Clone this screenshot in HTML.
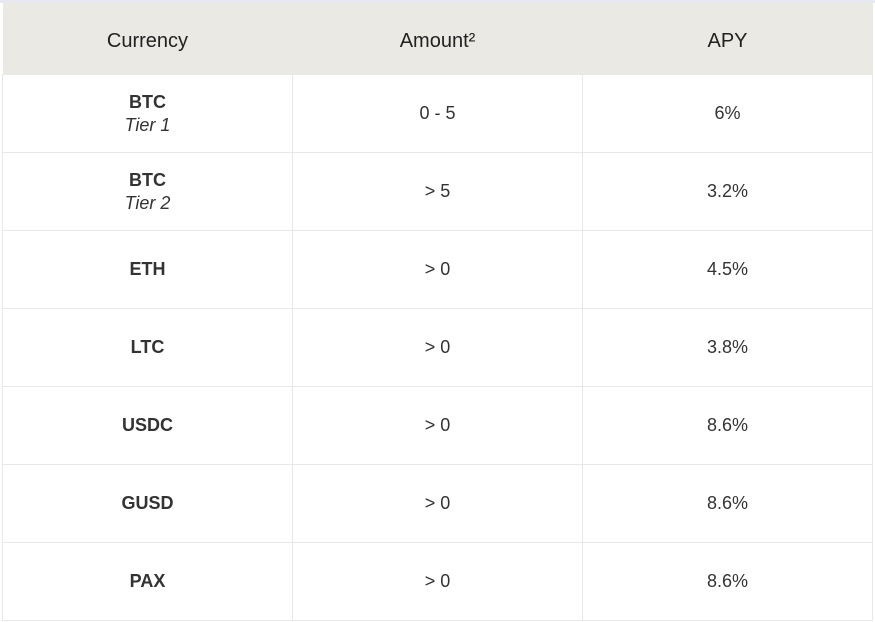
<!DOCTYPE html>
<html><head><style>
body{margin:0;width:875px;height:622px;background:#fff;font-family:"Liberation Sans",sans-serif;position:relative;overflow:hidden}
.top{position:absolute;left:0;top:0;width:875px;height:3px;background:#e6e9f2}
table{position:absolute;left:2px;top:3px;border-collapse:collapse;width:871px;table-layout:fixed}
th{background:#ebe9e4;height:65px;padding:6px 0 0 0;font-weight:normal;font-size:20px;color:#222}
td{height:77px;border:1px solid #e8e8e8;text-align:center;font-size:18px;color:#333;padding:0;line-height:23px}
b{font-weight:bold}
i{display:block}
</style></head><body>
<div class="top"></div>
<table>
<tr><th>Currency</th><th>Amount²</th><th>APY</th></tr>
<tr><td><b>BTC</b><i>Tier 1</i></td><td>0 - 5</td><td>6%</td></tr>
<tr><td><b>BTC</b><i>Tier 2</i></td><td>&gt; 5</td><td>3.2%</td></tr>
<tr><td><b>ETH</b></td><td>&gt; 0</td><td>4.5%</td></tr>
<tr><td><b>LTC</b></td><td>&gt; 0</td><td>3.8%</td></tr>
<tr><td><b>USDC</b></td><td>&gt; 0</td><td>8.6%</td></tr>
<tr><td><b>GUSD</b></td><td>&gt; 0</td><td>8.6%</td></tr>
<tr><td><b>PAX</b></td><td>&gt; 0</td><td>8.6%</td></tr>
</table>
</body></html>
